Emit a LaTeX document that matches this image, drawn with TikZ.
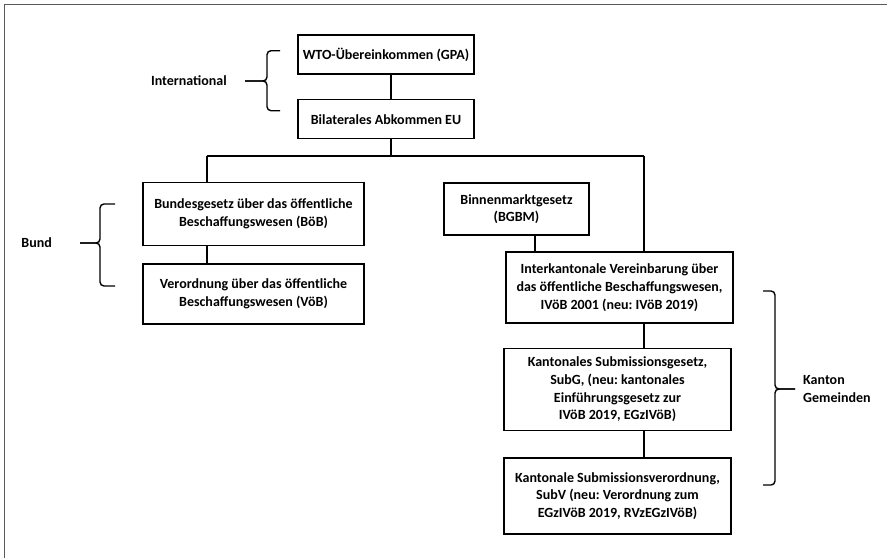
\documentclass[tikz,border=0pt]{standalone}
\usepackage{fontspec}
\setmainfont{Carlito}
\usetikzlibrary{positioning}
\frenchspacing

\begin{document}
\begin{tikzpicture}[x=1pt, y=-1pt, node distance=24pt,
		box/.style={draw, line width=1.5pt, align=center, inner sep=2pt, font=\fontsize{14}{17.7}\selectfont\bfseries},
		lbl/.style={inner sep=0pt, align=left, font=\fontsize{14}{17.7}\selectfont\bfseries},
		link/.style={line width=1.5pt},
		bracket/.style={line width=1.4pt, rounded corners=4pt}]
		\useasboundingbox (0,0) rectangle (887,558);
		\draw[gray!70!black, line width=1.8pt] (4.5,558) -- (4.5,4.5) -- (887,4.5);
		% international
		\node[box, minimum width=176pt, minimum height=39pt] (wto) at (386,54.7) {WTO-Übereinkommen (GPA)};
		\node[box, minimum width=176pt, minimum height=39pt, below=24pt of wto] (bilat) {Bilaterales Abkommen EU};
		% bund
		\node[box, minimum width=221pt, minimum height=63pt] (boeb) at (253.5,214) {Bundesgesetz über das öffentliche\\Beschaffungswesen (BöB)};
		\node[box, minimum width=221pt, minimum height=60pt, below=17pt of boeb] (voeb) {Verordnung über das öffentliche\\Beschaffungswesen (VöB)};
		% kantone
		\node[box, minimum width=145pt, minimum height=52pt] (bgbm) at (516.5,209) {Binnenmarktgesetz\\(BGBM)};
		\node[box, minimum width=227pt, minimum height=71pt] (ivoeb) at (619.5,287.5) {Interkantonale Vereinbarung über\\das öffentliche Beschaffungswesen,\\IVöB 2001 (neu: IVöB 2019)};
		\node[box, minimum width=227pt, minimum height=82pt, below=24pt of ivoeb, xshift=-2pt] (subg) {Kantonales Submissionsgesetz,\\SubG, (neu: kantonales\\Einführungsgesetz zur\\IVöB 2019, EGzIVöB)};
		\node[box, minimum width=227pt, minimum height=76pt, below=26pt of subg] (subv) {Kantonale Submissionsverordnung,\\SubV (neu: Verordnung zum\\EGzIVöB 2019, RVzEGzIVöB)};
		% connectors
		\coordinate (split) at (391,156);
		\coordinate (bl) at (207,156);
		\coordinate (br) at (644,156);
		\draw[link] ([xshift=5pt]wto.south) -- ([xshift=5pt]bilat.north);
		\draw[link] ([xshift=5pt]bilat.south) -- (split);
		\draw[link] (bl) -- (br);
		\draw[link] (bl) -- (bl |- boeb.north);
		\draw[link] (bl |- boeb.south) -- (bl |- voeb.north);
		\draw[link] (br) -- (br |- ivoeb.north);
		\draw[link] (br |- ivoeb.south) -- (br |- subg.north);
		\draw[link] (br |- subg.south) -- (br |- subv.north);
		\draw[link] ([xshift=18.5pt]bgbm.south) -- ([xshift=18.5pt]bgbm.south |- ivoeb.north);
		% brackets
		\coordinate (intltip) at (245,81);
		\draw[bracket] (280,50.7) -- (267,50.7) -- (267,81) -- (intltip);
		\draw[bracket] (280,110.7) -- (267,110.7) -- (267,81) -- (intltip);
		\node[lbl, left=18pt of intltip] (intl) {International};
		\coordinate (bundtip) at (80,243);
		\draw[bracket] (115,204) -- (100,204) -- (100,243) -- (bundtip);
		\draw[bracket] (115,286) -- (100,286) -- (100,243) -- (bundtip);
		\node[lbl, left=28pt of bundtip] (bund) {Bund};
		\coordinate (kantip) at (795,389);
		\draw[bracket] (763,291) -- (775,291) -- (775,389) -- (kantip);
		\draw[bracket] (763,485) -- (775,485) -- (775,389) -- (kantip);
		\node[lbl, right=8pt of kantip] (kanton) {Kanton\\Gemeinden};
	\end{tikzpicture}
\end{document}
